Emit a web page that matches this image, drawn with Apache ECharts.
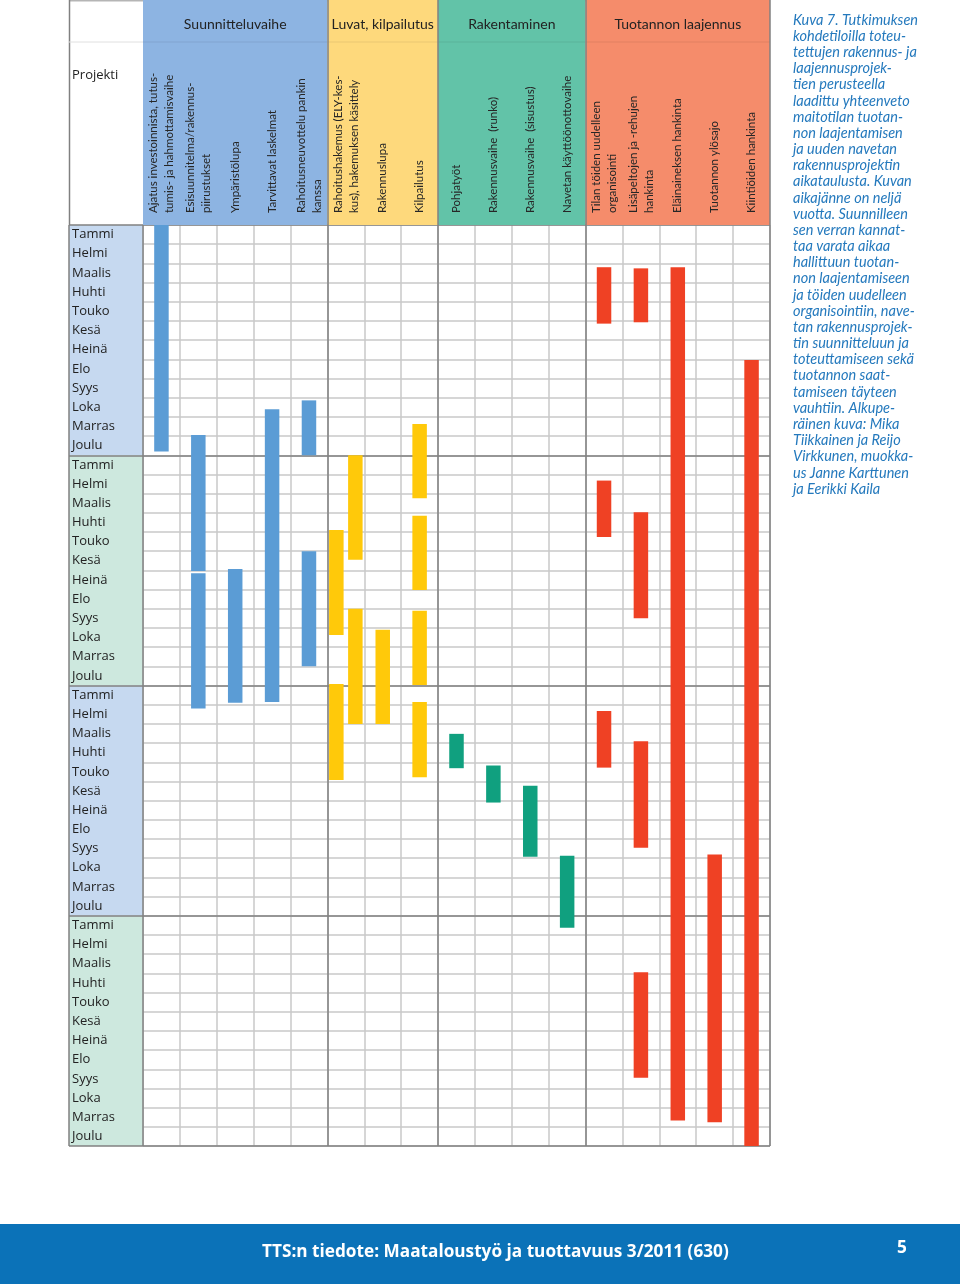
<!DOCTYPE html>
<html><head><meta charset="utf-8">
<script src="https://cdn.jsdelivr.net/npm/echarts@6/dist/echarts.min.js"></script>
<style>html,body{margin:0;padding:0;background:#fff}#c{width:960px;height:1284px}</style>
</head><body><div id="c"></div>
<script>
// ---------- data ----------
const months = ['Tammi','Helmi','Maalis','Huhti','Touko','Kesä','Heinä','Elo','Syys','Loka','Marras','Joulu'];
const monthLabels = months.concat(months, months, months); // four years
const taskLabels = [
  'Ajatus investoinnista, tutus-\ntumis- ja hahmottamisvaihe',
  'Esisuunnitelma/rakennus-\npiirustukset',
  'Ympäristölupa',
  'Tarvittavat laskelmat',
  'Rahoitusneuvottelu pankin\nkanssa',
  'Rahoitushakemus (ELY-kes-\nkus), hakemuksen käsittely',
  'Rakennuslupa',
  'Kilpailutus',
  'Pohjatyöt',
  'Rakennusvaihe  (runko)',
  'Rakennusvaihe  (sisustus)',
  'Navetan käyttöönottovaihe',
  'Tilan töiden uudelleen\norganisointi',
  'Lisäpeltojen ja -rehujen\nhankinta',
  'Eläinaineksen hankinta',
  'Tuotannon ylösajo',
  'Kiintiöiden hankinta'
];
const phaseNames = ['Suunnitteluvaihe','Luvat, kilpailutus','Rakentaminen','Tuotannon laajennus'];
const phaseStart = [0, 5, 8, 12];
const phaseEnd   = [5, 8, 12, 17];
const yearStart  = [0, 12, 24, 36];
const yearEnd    = [12, 24, 36, 48];
// bars: [task index, start month, end month, sub-track (-1 left, 0 centre, 1 right)]
const planningBars = [
  [0, 0, 11.8, 0],
  [1, 10.95, 18.03, 0],
  [1, 18.15, 25.2, 0],
  [2, 17.93, 24.9, 0],
  [3, 9.6, 24.86, 0],
  [4, 9.14, 12.0, 0],
  [4, 17.0, 23.0, 0]
];
const permitBars = [
  [5, 15.9, 21.37, -1],
  [5, 23.92, 28.92, -1],
  [5, 12.0, 17.44, 1],
  [5, 20.0, 26.0, 1],
  [6, 21.1, 26.0, 0],
  [7, 10.37, 14.24, 0],
  [7, 15.15, 19.02, 0],
  [7, 20.11, 23.97, 0],
  [7, 24.86, 28.78, 0]
];
const buildBars = [
  [8, 26.52, 28.31, 0],
  [9, 28.17, 30.1, 0],
  [10, 29.22, 32.92, 0],
  [11, 32.87, 36.62, 0]
];
const expansionBars = [
  [12, 2.2, 5.14, 0],
  [12, 13.32, 16.26, 0],
  [12, 25.33, 28.28, 0],
  [13, 2.26, 5.07, 0],
  [13, 14.97, 20.5, 0],
  [13, 26.91, 32.45, 0],
  [13, 38.95, 44.44, 0],
  [14, 2.2, 46.67, 0],
  [15, 32.81, 46.76, 0],
  [16, 7.03, 48, 0]
];
const captionLines = [
  'Kuva 7. Tutkimuksen','kohdetiloilla toteu-','tettujen rakennus- ja','laajennusprojek-',
  'tien perusteella','laadittu yhteenveto','maitotilan tuotan-','non laajentamisen',
  'ja uuden navetan','rakennusprojektin','aikataulusta. Kuvan','aikajänne on neljä',
  'vuotta. Suunnilleen','sen verran kannat-','taa varata aikaa','hallittuun tuotan-',
  'non laajentamiseen','ja töiden uudelleen','organisointiin, nave-','tan rakennusprojek-',
  'tin suunnitteluun ja','toteuttamiseen sekä','tuotannon saat-','tamiseen täyteen',
  'vauhtiin. Alkupe-','räinen kuva: Mika','Tiikkainen ja Reijo','Virkkunen, muokka-',
  'us Janne Karttunen','ja Eerikki Kaila'
];
const footerText = 'TTS:n tiedote: Maataloustyö ja tuottavuus 3/2011 (630)';
const pageNumber = '5';

// ---------- styles ----------
const phaseColors = ['#8db4e2', '#fed97c', '#62c3a8', '#f58c6b'];
const barColors = ['#5b9cd5', '#ffc90a', '#10a07f', '#ef4124'];
const yearColors = ['#c6d9f0', '#cde8de', '#c6d9f0', '#cde8de'];
const minorLine = '#c9c9c9';
const majorLine = '#808080';
const BAR_W = 14.5, LANE = 9.5;

function barItem(params, api) {
  const a = api.coord([api.value(0), api.value(1)]);
  const b = api.coord([api.value(0) + 1, api.value(2)]);
  const cx = (a[0] + b[0]) / 2 + api.value(3) * LANE;
  return {
    type: 'rect',
    shape: { x: cx - BAR_W / 2, y: a[1], width: BAR_W, height: b[1] - a[1] },
    style: { fill: api.visual('color') }
  };
}
function barSeries(data, color) {
  return {
    type: 'custom', xAxisIndex: 1, yAxisIndex: 0, z: 3, clip: false,
    itemStyle: { color: color }, renderItem: barItem,
    encode: { x: 0, y: [1, 2] }, data: data, silent: true
  };
}

const majorX = [0, 5, 8, 12, 17];
const majorY = [0, 12, 24, 36, 48];

const chart = echarts.init(document.getElementById('c'), null, { width: 960, height: 1284 });
chart.setOption({
  animation: false,
  backgroundColor: '#ffffff',
  grid: [
    { left: 143, right: 190, top: 225, bottom: 138 },
    { left: 69, width: 74, top: 225, bottom: 138 },
    { left: 143, right: 190, top: 0, height: 225 }
  ],
  xAxis: [
    { gridIndex: 0, type: 'category', data: taskLabels, position: 'top', z: 10,
      axisLine: { show: false }, axisTick: { show: false }, splitLine: { show: false },
      axisLabel: { rotate: 90, interval: 0, margin: 12, fontFamily: 'Lato', fontSize: 11.5,
        lineHeight: 16, color: '#262626' } },
    { gridIndex: 0, type: 'value', min: 0, max: 17, interval: 1,
      axisLine: { show: false }, axisTick: { show: false }, axisLabel: { show: false },
      splitLine: { show: true, lineStyle: { color: minorLine, width: 1.5 } } },
    { gridIndex: 1, type: 'value', min: 0, max: 1, show: false },
    { gridIndex: 2, type: 'value', min: 0, max: 17, show: false }
  ],
  yAxis: [
    { gridIndex: 0, type: 'value', min: 0, max: 48, interval: 1, inverse: true,
      axisLine: { show: false }, axisTick: { show: false }, axisLabel: { show: false },
      splitLine: { show: true, lineStyle: { color: minorLine, width: 1.5 } } },
    { gridIndex: 1, type: 'category', data: monthLabels, inverse: true, position: 'left', z: 10,
      axisLine: { show: false }, axisTick: { show: false }, splitLine: { show: false },
      axisLabel: { inside: true, margin: 3, interval: 0, fontFamily: 'Open Sans', fontSize: 13, color: '#222' } },
    { gridIndex: 1, type: 'value', min: 0, max: 48, inverse: true, show: false, position: 'left' },
    { gridIndex: 2, type: 'value', min: 0, max: 1, show: false }
  ],
  series: [
    { // header phase blocks
      type: 'custom', xAxisIndex: 3, yAxisIndex: 3, z: 1, silent: true,
      data: phaseNames.map((n, i) => [phaseStart[i], phaseEnd[i]]),
      renderItem: function (params, api) {
        const i = params.dataIndex;
        const a = api.coord([api.value(0), 0]);
        const b = api.coord([api.value(1), 1]);
        return { type: 'group', children: [
          { type: 'rect', shape: { x: a[0], y: b[1], width: b[0] - a[0], height: a[1] - b[1] },
            style: { fill: phaseColors[i] } },
          { type: 'rect', shape: { x: a[0], y: b[1] + 41.5, width: b[0] - a[0], height: 1 },
            style: { fill: 'rgba(0,0,0,0.08)' } },
          { type: 'text', style: { text: phaseNames[i], x: (a[0] + b[0]) / 2, y: b[1] + 24,
            align: 'center', verticalAlign: 'middle', font: '14px Lato', fill: '#222' } }
        ] };
      },
      markLine: { silent: true, symbol: ['none', 'none'], z: 2, label: { show: false },
        lineStyle: { color: majorLine, width: 1.5, type: 'solid' },
        data: majorX.slice(1).map(v => ({ xAxis: v })) }
    },
    { // label column backgrounds + borders
      type: 'line', xAxisIndex: 2, yAxisIndex: 2, data: [], silent: true,
      markArea: { silent: true, z: 0,
        data: yearStart.map((s, i) => [{ yAxis: s, itemStyle: { color: yearColors[i] } }, { yAxis: yearEnd[i] }]) },
      markLine: { silent: true, symbol: ['none', 'none'], z: 1, label: { show: false },
        lineStyle: { color: majorLine, width: 1.5, type: 'solid' },
        data: majorY.map(v => ({ yAxis: v })).concat([{ xAxis: 0 }]) }
    },
    { // major grid lines of the main table
      type: 'line', xAxisIndex: 1, yAxisIndex: 0, data: [], silent: true,
      markLine: { silent: true, symbol: ['none', 'none'], z: 1, label: { show: false },
        lineStyle: { color: majorLine, width: 1.5, type: 'solid' },
        data: majorX.map(v => ({ xAxis: v })).concat(majorY.map(v => ({ yAxis: v }))) }
    },
    barSeries(planningBars, barColors[0]),
    barSeries(permitBars, barColors[1]),
    barSeries(buildBars, barColors[2]),
    barSeries(expansionBars, barColors[3])
  ],
  graphic: [
    { type: 'line', shape: { x1: 69, y1: 0.75, x2: 770, y2: 0.75 }, style: { stroke: '#b5b5b5', lineWidth: 1.5 } },
    { type: 'line', shape: { x1: 69.5, y1: 0, x2: 69.5, y2: 225 }, style: { stroke: majorLine, lineWidth: 1.5 } },
    { type: 'line', shape: { x1: 69, y1: 42, x2: 143, y2: 42 }, style: { stroke: '#e0e0e0', lineWidth: 1 } },
    { type: 'text', x: 72, y: 75, style: { text: 'Projekti', font: '13px "Open Sans"', fill: '#222', verticalAlign: 'middle' } },
    { type: 'text', x: 793, y: 12,
      style: { text: captionLines.join('\n'), font: 'italic 14.5px Lato', fill: '#2479bd', lineHeight: 16.17, verticalAlign: 'top' } },
    { type: 'rect', shape: { x: 0, y: 1224, width: 960, height: 60 }, style: { fill: '#0b72b8' } },
    { type: 'text', x: 262, y: 1252, scaleX: 0.93,
      style: { text: footerText, font: 'bold 18.5px "Open Sans"', fill: '#fff', verticalAlign: 'middle' } },
    { type: 'text', x: 897, y: 1248, scaleX: 0.93,
      style: { text: pageNumber, font: 'bold 18.5px "Open Sans"', fill: '#fff', verticalAlign: 'middle' } }
  ]
});
</script></body></html>
